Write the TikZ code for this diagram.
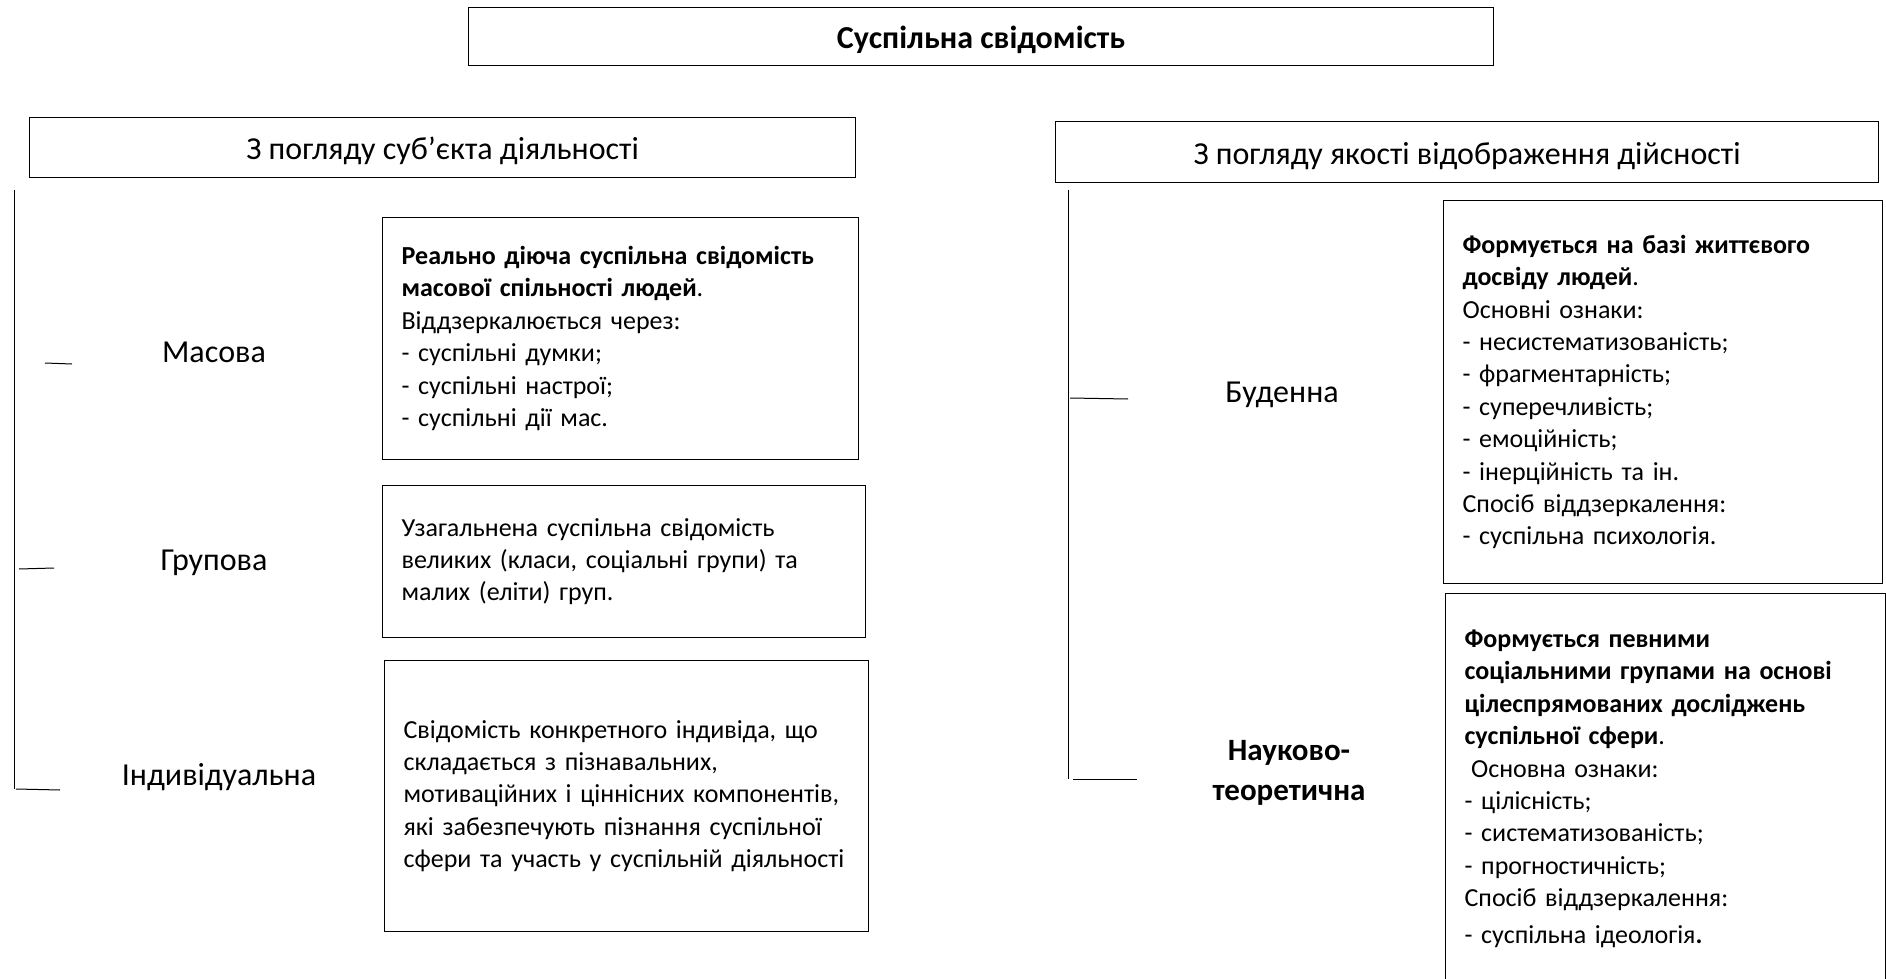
\documentclass[tikz,border=0pt]{standalone}
\usepackage{fontspec}
\setmainfont{Carlito}
\usepackage{tikz}
\usetikzlibrary{positioning}

\begin{document}
\begin{tikzpicture}[
            x=0.5pt, y=-0.5pt,
            head/.style={draw, rectangle, line width=0.6pt, anchor=north west, text height=12pt, text depth=0pt, font=\fontsize{16}{19.5}\selectfont},
            box/.style={draw, rectangle, line width=0.6pt, anchor=north west, inner xsep=9.5pt, inner ysep=0pt, align=left, font=\fontsize{13}{16.2}\selectfont},
            kind/.style={align=center, font=\fontsize{16}{19.5}\selectfont},
            line/.style={line width=0.5pt}
        ]
            \useasboundingbox (0,0) rectangle (1886,979);

            \node[head, minimum width=512.5pt, minimum height=29pt, font=\fontsize{16}{19.5}\selectfont\bfseries] (title) at (468,7) {Суспільна свідомість};
            \node[head, minimum width=413pt, minimum height=30pt] (subject) at (29,117) {З погляду суб’єкта діяльності};
            \node[head, minimum width=411.5pt, minimum height=30.5pt] (quality) at (1055,121) {З погляду якості відображення дійсності};

            % Left branch
            \node[box, minimum width=238pt, minimum height=121pt, text width=219pt] (massbox) at (382,217)
                {\textbf{Реально діюча суспільна свідомість}\\\textbf{масової спільності людей}.\\Віддзеркалюється через:\\- суспільні думки;\\- суспільні настрої;\\- суспільні дії мас.};
            \node[box, minimum width=241.5pt, minimum height=76pt, text width=222.5pt] (groupbox) at (382,485)
                {Узагальнена суспільна свідомість\\великих (класи, соціальні групи) та\\малих (еліти) груп.};
            \node[box, minimum width=242pt, minimum height=135.5pt, text width=223pt] (indivbox) at (384,660)
                {Свідомість конкретного індивіда, що\\складається з пізнавальних,\\мотиваційних і ціннісних компонентів,\\які забезпечують пізнання суспільної\\сфери та участь у суспільній діяльності};

            \node[kind] (mass) at (214,352) {Масова};
            \node[kind] (group) at (214,563) {Групова};
            \node[kind] (indiv) at (219,777) {Індивідуальна};

            \coordinate (ltop) at (14,190);
            \coordinate (lbot) at (14,789);
            \coordinate (lmassa) at (45,363);
            \coordinate (lmassb) at (72,364);
            \coordinate (lgroupa) at (19,569);
            \coordinate (lgroupb) at (54,568);
            \coordinate (lindiva) at (16,789);
            \coordinate (lindivb) at (60,790);
            \draw[line] (ltop) -- (lbot);
            \draw[line] (lmassa) -- (lmassb);
            \draw[line] (lgroupa) -- (lgroupb);
            \draw[line] (lindiva) -- (lindivb);

            % Right branch
            \node[box, minimum width=219.5pt, minimum height=191.5pt, text width=200.5pt] (dailybox) at (1443,200)
                {\textbf{Формується на базі життєвого}\\\textbf{досвіду людей}.\\Основні ознаки:\\- несистематизованість;\\- фрагментарність;\\- суперечливість;\\- емоційність;\\- інерційність та ін.\\Спосіб віддзеркалення:\\- суспільна психологія.};
            \node[box, minimum width=220pt, minimum height=195pt, text width=201pt] (scibox) at (1445,593)
                {\textbf{Формується певними}\\\textbf{соціальними групами на основі}\\\textbf{цілеспрямованих досліджень}\\\textbf{суспільної сфери}.\\\hspace{0.25em}Основна ознаки:\\- цілісність;\\- систематизованість;\\- прогностичність;\\Спосіб віддзеркалення:\\[2pt]- суспільна ідеологія\textbf{.}};

            \node[kind] (daily) at (1282,395) {Буденна};
            \node[kind, font=\fontsize{15.5}{20}\selectfont\bfseries] (sci) at (1289,773) {Науково-\\теоретична};

            \coordinate (rtop) at (1068,190);
            \coordinate (rbot) at (1068,779);
            \coordinate (rdailya) at (1070,398);
            \coordinate (rdailyb) at (1128,399);
            \coordinate (rscia) at (1073,779);
            \coordinate (rscib) at (1137,779);
            \draw[line] (rtop) -- (rbot);
            \draw[line] (rdailya) -- (rdailyb);
            \draw[line] (rscia) -- (rscib);
        \end{tikzpicture}
\end{document}
